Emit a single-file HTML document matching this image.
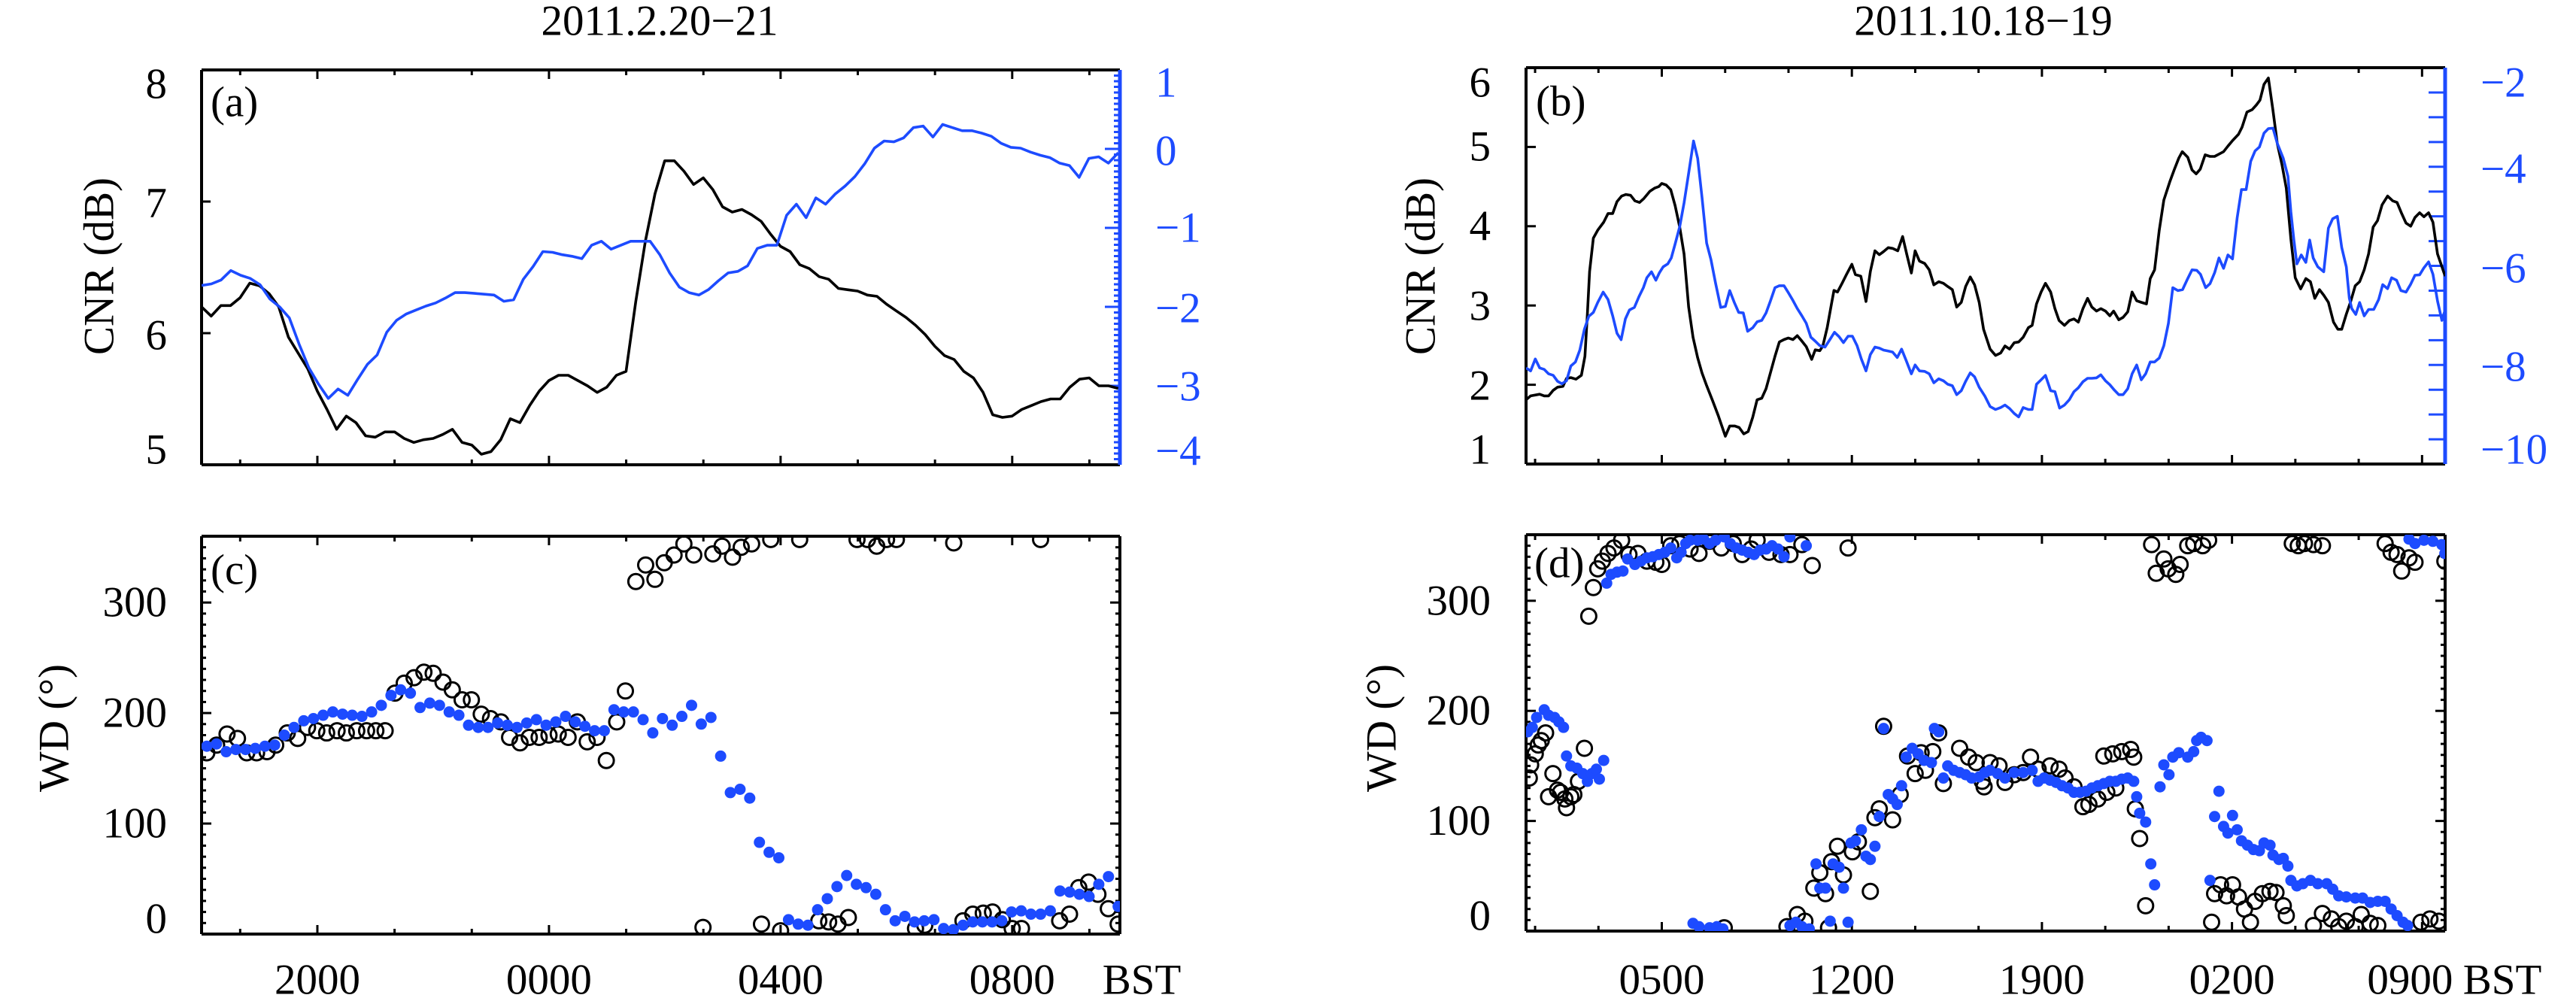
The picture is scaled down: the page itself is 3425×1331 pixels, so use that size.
<!DOCTYPE html>
<html><head><meta charset="utf-8"><style>
html,body{margin:0;padding:0;background:#fff;}
svg{display:block;}
text{font-family:"Liberation Serif","Times New Roman",serif;}
</style></head><body>
<svg id="chart" xmlns="http://www.w3.org/2000/svg" width="3425" height="1331" viewBox="0 0 3425 1331" font-family="'Liberation Serif', 'Times New Roman', serif">
<rect x="0" y="0" width="3425" height="1331" fill="#fff"/>
<defs>
<clipPath id="clipC"><rect x="268" y="713" width="1221" height="529"/></clipPath>
<clipPath id="clipD"><rect x="2029" y="711" width="1222" height="527"/></clipPath>
<clipPath id="clipA"><rect x="268" y="93" width="1221" height="525"/></clipPath>
<clipPath id="clipB"><rect x="2029" y="90" width="1222" height="527"/></clipPath>
</defs>
<g id="layer"></g>
</svg>
<script>
// ---------- Panel (a): 2011.2.20-21 CNR (hours since 18:00, 10-min steps) ----------
const aEndHour = 15.83;
const aCnrBlack = [6.20,6.13,6.21,6.21,6.27,6.38,6.36,6.30,6.20,5.97,5.85,5.73,5.56,5.42,5.27,5.37,5.32,5.22,5.21,5.25,5.25,5.20,5.17,5.19,5.20,5.23,5.27,5.17,5.15,5.08,5.10,5.19,5.35,5.32,5.45,5.56,5.64,5.68,5.68,5.64,5.60,5.55,5.59,5.68,5.71,6.24,6.70,7.06,7.31,7.31,7.23,7.13,7.18,7.09,6.96,6.92,6.94,6.90,6.85,6.75,6.66,6.62,6.52,6.49,6.43,6.41,6.34,6.33,6.32,6.29,6.28,6.22,6.17,6.12,6.06,5.99,5.90,5.83,5.80,5.71,5.66,5.55,5.38,5.36,5.37,5.42,5.45,5.48,5.50,5.50,5.59,5.65,5.66,5.60,5.60,5.58];
const aCnrBlue = [-1.73,-1.71,-1.66,-1.54,-1.60,-1.64,-1.72,-1.90,-2.00,-2.14,-2.47,-2.77,-2.98,-3.16,-3.04,-3.12,-2.92,-2.73,-2.61,-2.32,-2.17,-2.09,-2.04,-1.99,-1.95,-1.89,-1.82,-1.82,-1.83,-1.84,-1.85,-1.93,-1.91,-1.65,-1.49,-1.30,-1.31,-1.34,-1.36,-1.39,-1.22,-1.17,-1.27,-1.22,-1.17,-1.17,-1.17,-1.34,-1.57,-1.75,-1.82,-1.85,-1.78,-1.67,-1.57,-1.55,-1.48,-1.26,-1.22,-1.22,-0.84,-0.70,-0.87,-0.62,-0.70,-0.57,-0.47,-0.35,-0.19,0.01,0.10,0.09,0.14,0.27,0.29,0.15,0.31,0.27,0.23,0.23,0.20,0.16,0.07,0.02,0.01,-0.04,-0.08,-0.11,-0.18,-0.21,-0.36,-0.12,-0.10,-0.18,-0.05];
// ---------- Panel (c): wind direction ----------
const cBlueStart = 0.09, cBlueEnd = 15.83;
const cBlueDeg = [170,172,165,167,167,168,170,171,180,187,193,195,198,201,199,198,197,201,207,216,221,218,205,209,207,201,198,189,187,187,191,189,187,191,194,189,192,197,192,188,184,184,203,201,201,194,182,195,189,197,207,190,196,161,128,131,123,83,74,69,13,9,8,22,32,43,53,45,42,36,22,12,16,11,12,13,5,4,8,11,11,11,12,20,21,18,18,21,39,38,36,34,45,52,25];
const cBlackTime = [0.09,0.26,0.44,0.62,0.78,0.95,1.13,1.28,1.48,1.66,1.83,1.99,2.16,2.34,2.50,2.68,2.85,3.01,3.17,3.34,3.50,3.67,3.84,4.00,4.17,4.33,4.50,4.66,4.83,4.99,5.17,5.32,5.50,5.66,5.83,6.00,6.16,6.33,6.49,6.66,6.83,6.99,7.17,7.32,7.50,7.67,7.83,7.99,8.16,8.33,8.50,8.66,8.83,8.99,9.17,9.32,9.50,9.67,9.83,10.00,10.33,10.66,10.83,10.99,11.17,11.32,11.50,11.66,11.83,12.00,12.33,12.49,12.99,13.15,13.32,13.50,13.66,13.83,14.00,14.16,14.49,14.82,14.99,15.15,15.32,15.48,15.66,15.83];
const cBlackDeg = [164,171,181,177,164,164,165,171,182,177,187,184,182,184,182,184,184,184,184,218,227,232,237,236,228,221,212,212,199,195,192,178,173,178,178,180,181,178,192,174,178,157,192,220,319,334,321,336,343,353,343,6,344,351,341,350,353,9,357,3,357,12,11,9,15,357,357,351,357,357,5,8,354,12,18,19,20,13,5,5,357,12,18,42,47,36,23,9];
const acTickLabels = ["2000","0000","0400","0800"];
const acTickHours = [2,6,10,14];
// ---------- Panel (b): 2011.10.18-19 CNR (hours since 00:00) ----------
const bBlackTime = [0.00,0.17,0.50,0.67,0.83,1.00,1.16,1.36,1.49,1.65,1.84,2.04,2.17,2.26,2.34,2.48,2.64,2.86,3.02,3.19,3.35,3.52,3.68,3.85,4.01,4.18,4.34,4.56,4.73,4.89,5.00,5.16,5.33,5.49,5.66,5.82,5.99,6.15,6.32,6.48,6.65,6.87,7.08,7.34,7.50,7.69,7.85,8.02,8.18,8.35,8.51,8.68,8.84,9.00,9.17,9.33,9.50,9.66,9.83,9.99,10.16,10.32,10.52,10.65,10.82,10.93,11.09,11.25,11.34,11.47,11.64,11.80,12.00,12.13,12.33,12.52,12.68,12.85,13.01,13.17,13.34,13.50,13.69,13.87,14.02,14.19,14.33,14.49,14.68,14.85,15.02,15.20,15.37,15.53,15.70,15.86,16.03,16.19,16.36,16.52,16.69,16.85,17.09,17.29,17.48,17.64,17.81,17.98,18.14,18.31,18.50,18.64,18.80,18.97,19.13,19.32,19.48,19.63,19.83,20.01,20.18,20.34,20.51,20.68,20.84,21.01,21.17,21.34,21.50,21.64,21.83,21.99,22.16,22.32,22.49,22.66,22.85,22.99,23.15,23.32,23.49,23.71,23.87,24.04,24.17,24.37,24.53,24.68,24.83,25.01,25.19,25.36,25.52,25.69,25.85,26.02,26.24,26.37,26.55,26.74,26.90,27.03,27.18,27.34,27.51,27.67,27.84,28.00,28.17,28.33,28.53,28.72,28.89,29.05,29.22,29.38,29.55,29.74,29.90,30.04,30.21,30.37,30.54,30.70,30.87,31.03,31.20,31.36,31.53,31.73,31.92,32.08,32.25,32.41,32.58,32.74,32.91,33.07,33.24,33.40,33.57,33.73,33.85];
const bBlackCnr = [1.81,1.86,1.88,1.86,1.86,1.93,1.97,1.98,2.08,2.09,2.07,2.12,2.36,2.90,3.43,3.85,3.95,4.05,4.16,4.16,4.31,4.38,4.40,4.39,4.32,4.30,4.35,4.44,4.48,4.50,4.54,4.52,4.46,4.26,3.99,3.65,2.98,2.60,2.34,2.15,1.99,1.80,1.61,1.35,1.48,1.48,1.46,1.38,1.41,1.59,1.81,1.83,1.95,2.15,2.36,2.54,2.57,2.59,2.57,2.62,2.55,2.48,2.32,2.44,2.43,2.49,2.72,3.02,3.19,3.17,3.28,3.39,3.52,3.39,3.37,3.05,3.43,3.69,3.64,3.68,3.73,3.72,3.69,3.87,3.65,3.41,3.69,3.56,3.53,3.45,3.26,3.30,3.28,3.24,3.20,2.98,3.04,3.24,3.36,3.26,3.04,2.70,2.45,2.37,2.40,2.49,2.45,2.53,2.54,2.60,2.72,2.75,3.02,3.17,3.28,3.17,2.96,2.81,2.75,2.81,2.83,2.79,2.96,3.09,2.98,2.93,2.96,2.93,2.87,2.93,2.82,2.85,2.92,3.17,3.06,3.04,3.02,3.34,3.45,3.95,4.33,4.56,4.71,4.86,4.94,4.87,4.71,4.66,4.72,4.90,4.88,4.88,4.91,4.94,5.01,5.08,5.16,5.25,5.44,5.47,5.53,5.59,5.79,5.87,5.46,5.04,4.78,4.48,3.84,3.35,3.21,3.34,3.30,3.09,3.20,3.13,3.04,2.79,2.70,2.70,2.89,3.05,3.25,3.30,3.45,3.65,3.99,4.07,4.27,4.38,4.32,4.30,4.16,4.04,4.00,4.11,4.17,4.12,4.17,4.05,3.65,3.49,3.37];
const bBlueTime = [0.00,0.17,0.34,0.50,0.67,0.83,1.00,1.16,1.32,1.49,1.65,1.82,1.98,2.15,2.31,2.48,2.64,2.84,3.02,3.19,3.35,3.50,3.66,3.81,3.99,4.16,4.32,4.45,4.62,4.78,4.91,5.05,5.22,5.35,5.49,5.66,5.82,5.99,6.17,6.32,6.48,6.65,6.81,6.98,7.17,7.34,7.50,7.67,7.83,8.00,8.16,8.35,8.51,8.68,8.84,9.00,9.17,9.33,9.50,9.66,9.83,9.99,10.16,10.32,10.49,10.65,10.82,11.01,11.20,11.36,11.53,11.69,11.86,12.02,12.19,12.35,12.52,12.68,12.85,13.01,13.17,13.34,13.50,13.67,13.83,14.00,14.19,14.33,14.49,14.68,14.85,15.02,15.20,15.37,15.53,15.70,15.86,16.03,16.19,16.36,16.52,16.69,16.90,17.09,17.29,17.48,17.64,17.81,17.98,18.14,18.31,18.50,18.64,18.80,18.97,19.13,19.32,19.48,19.65,19.83,20.01,20.18,20.34,20.51,20.68,20.84,21.01,21.17,21.34,21.50,21.67,21.83,21.99,22.16,22.32,22.49,22.66,22.82,22.99,23.15,23.32,23.49,23.66,23.82,24.01,24.18,24.34,24.53,24.70,24.84,25.03,25.19,25.36,25.52,25.69,25.85,26.02,26.19,26.35,26.52,26.69,26.85,27.01,27.18,27.34,27.51,27.67,27.89,28.06,28.17,28.28,28.39,28.55,28.72,28.86,28.99,29.16,29.38,29.55,29.71,29.88,30.04,30.21,30.32,30.41,30.56,30.70,30.87,31.03,31.22,31.40,31.55,31.73,31.88,32.06,32.22,32.41,32.58,32.74,32.91,33.07,33.24,33.40,33.57,33.73,33.85];
const bBlueCnr = [-8.06,-8.12,-7.88,-8.06,-8.09,-8.18,-8.21,-8.33,-8.38,-8.32,-8.02,-7.94,-7.70,-7.28,-7.02,-6.94,-6.74,-6.53,-6.68,-7.01,-7.36,-7.49,-7.07,-6.89,-6.84,-6.62,-6.44,-6.24,-6.12,-6.29,-6.14,-6.02,-5.96,-5.84,-5.56,-5.21,-4.73,-4.13,-3.48,-3.83,-4.61,-5.54,-5.87,-6.35,-6.84,-6.82,-6.50,-6.74,-6.94,-6.95,-7.32,-7.25,-7.13,-7.10,-6.95,-6.71,-6.44,-6.40,-6.40,-6.54,-6.70,-6.86,-7.01,-7.16,-7.44,-7.52,-7.61,-7.64,-7.48,-7.34,-7.43,-7.55,-7.42,-7.42,-7.61,-7.88,-8.12,-7.79,-7.64,-7.66,-7.70,-7.72,-7.74,-7.85,-7.68,-7.91,-8.18,-8.00,-8.12,-8.13,-8.18,-8.36,-8.28,-8.32,-8.39,-8.42,-8.60,-8.52,-8.33,-8.16,-8.24,-8.45,-8.63,-8.84,-8.90,-8.86,-8.81,-8.88,-8.98,-9.05,-8.86,-8.90,-8.90,-8.39,-8.30,-8.21,-8.52,-8.54,-8.87,-8.81,-8.70,-8.54,-8.46,-8.34,-8.27,-8.27,-8.26,-8.20,-8.32,-8.40,-8.51,-8.60,-8.60,-8.48,-8.18,-8.00,-8.30,-8.18,-7.94,-7.94,-7.86,-7.61,-7.16,-6.44,-6.50,-6.48,-6.29,-6.08,-6.09,-6.17,-6.44,-6.36,-6.14,-5.84,-6.05,-5.78,-5.86,-5.03,-4.46,-4.46,-3.89,-3.68,-3.60,-3.32,-3.23,-3.22,-3.53,-3.83,-4.19,-4.91,-5.48,-5.96,-5.78,-5.93,-5.48,-5.84,-6.02,-6.12,-5.24,-5.05,-5.00,-5.63,-6.02,-6.65,-6.86,-6.98,-6.74,-7.01,-6.88,-6.88,-6.68,-6.38,-6.46,-6.24,-6.29,-6.50,-6.53,-6.37,-6.19,-6.18,-6.04,-5.92,-6.17,-6.71,-7.10,-6.89];
// ---------- Panel (d): wind direction ----------
const dBlueTime = [0.06,0.23,0.39,0.67,0.83,1.05,1.21,1.38,1.49,1.65,1.87,2.09,2.26,2.42,2.59,2.70,2.86,2.97,3.13,3.35,3.57,3.74,4.01,4.23,4.45,4.67,4.89,5.11,5.33,5.55,5.71,5.88,6.04,6.32,6.54,6.76,6.98,7.30,7.52,7.74,7.96,8.18,8.40,8.62,8.84,9.06,9.28,9.50,9.72,10.32,6.15,6.37,6.76,7.03,7.25,9.72,9.94,10.16,10.43,11.20,11.86,10.68,10.82,11.03,11.31,11.53,11.69,11.97,12.13,12.35,12.52,12.68,12.85,13.01,13.17,13.34,13.50,13.67,13.83,14.00,14.22,14.44,14.66,14.93,15.04,15.20,15.37,15.53,15.75,15.97,16.19,16.41,16.69,16.90,17.09,17.37,17.64,17.98,18.31,18.64,18.86,19.08,19.30,19.52,19.74,19.96,20.18,20.40,20.62,20.84,21.06,21.28,21.50,21.72,21.94,22.16,22.38,22.49,22.60,22.82,23.01,23.15,23.35,23.49,23.68,23.82,24.04,24.37,24.59,24.70,24.86,25.08,25.19,25.36,25.52,25.69,25.85,26.02,26.19,26.35,26.57,26.79,27.01,27.18,27.40,27.51,27.73,27.89,28.06,28.17,28.39,28.61,28.89,29.16,29.49,29.71,29.93,30.21,30.54,30.81,31.09,31.37,31.64,31.86,32.08,32.30,32.47,32.52,32.74,33.07,33.40,33.73,33.84];
const dBlueDeg = [181,185,194,201,196,194,190,185,159,150,148,143,136,143,147,138,155,316,324,326,327,338,333,336,339,340,342,344,348,339,344,352,355,355,356,352,355,358,352,348,346,344,342,346,347,350,347,340,358,350,7,4,3,4,2,5,8,4,2,9,8,61,39,39,61,58,39,80,82,92,68,65,77,104,184,124,120,115,132,158,166,161,155,153,184,181,139,150,146,144,142,139,140,144,146,143,139,144,144,146,136,139,137,135,132,130,126,126,127,130,132,134,136,136,138,139,136,122,107,99,61,42,131,151,142,158,162,158,163,173,176,173,46,104,127,95,89,105,92,82,78,74,73,80,78,69,65,66,59,46,41,43,46,43,43,38,32,31,30,30,26,27,27,20,14,8,5,356,352,355,354,351,343];
const dBlackTime = [0.12,0.17,0.34,0.45,0.56,0.72,0.83,0.99,1.16,1.27,1.43,1.49,1.65,1.76,1.93,2.15,2.31,2.48,2.64,2.81,3.02,3.24,3.52,3.79,4.12,4.45,4.78,5.00,5.33,5.66,6.04,6.37,6.76,7.19,7.63,7.96,8.29,8.51,8.95,9.39,9.72,10.16,10.54,11.86,7.30,9.61,9.99,10.27,11.14,10.60,10.82,11.03,11.25,11.47,11.69,12.02,12.24,12.68,12.85,13.01,13.50,13.78,13.17,14.05,14.33,14.55,14.71,14.98,15.20,15.37,15.97,16.30,16.58,16.80,16.87,17.09,17.42,17.64,17.98,18.31,18.58,18.86,19.30,19.63,19.85,20.18,20.51,20.73,21.06,21.39,21.72,21.28,21.61,21.94,22.27,22.38,22.44,22.60,22.82,23.04,23.21,23.49,23.65,23.93,24.09,24.37,24.59,24.92,25.14,25.25,25.36,25.58,25.80,26.02,26.24,26.46,26.68,26.85,27.12,27.40,27.62,27.89,28.00,28.22,28.44,28.67,29.00,29.33,29.00,29.33,29.66,29.93,30.21,30.54,30.76,31.09,31.37,31.64,31.86,32.08,32.25,32.52,32.74,32.96,33.29,33.62,33.84];
const dBlackDeg = [139,151,161,169,173,180,122,143,128,126,120,112,122,124,136,166,286,312,329,336,343,348,355,342,343,336,335,333,350,352,347,343,354,348,352,342,347,355,344,342,342,351,332,348,3,4,15,9,3,39,53,34,63,77,51,72,81,36,103,111,101,124,186,159,143,162,146,163,180,134,166,158,153,136,131,153,150,135,142,144,158,147,150,147,139,131,113,115,120,126,130,159,161,163,165,158,111,84,23,351,325,338,329,324,333,350,352,350,355,8,34,42,32,42,31,20,8,27,34,36,35,23,14,352,350,352,351,350,5,16,11,4,9,4,15,7,5,352,344,342,327,339,335,8,11,9,336];
const bdTickLabels = ["0500","1200","1900","0200","0900"];
const bdTickHours = [5,12,19,26,33];

const BLUE = "#1d4bff";
const FONT = "'Liberation Serif', 'Times New Roman', serif";
const NS = "http://www.w3.org/2000/svg";
const layer = document.getElementById("layer");

function mk(tag, attrs, parent) {
  const e = document.createElementNS(NS, tag);
  for (const k in attrs) e.setAttribute(k, attrs[k]);
  (parent || layer).appendChild(e);
  return e;
}
function txt(str, x, y, size, anchor, fill, parent) {
  const t = mk("text", {x: x, y: y, "font-size": size, "font-family": FONT, "text-anchor": anchor, "dominant-baseline": "central", fill: fill || "#000"}, parent);
  t.textContent = str;
  return t;
}

const P = {
  a: {x0: 268, x1: 1489, y0: 93, y1: 618, tmin: 0, tmax: 15.86},
  c: {x0: 268, x1: 1489, y0: 713, y1: 1242, tmin: 0, tmax: 15.86},
  b: {x0: 2029, x1: 3251, y0: 90, y1: 617, tmin: 0, tmax: 33.85},
  d: {x0: 2029, x1: 3251, y0: 711, y1: 1238, tmin: 0, tmax: 33.85}
};
function sx(p, t) { return p.x0 + (t - p.tmin) / (p.tmax - p.tmin) * (p.x1 - p.x0); }
function sy(p, v, lo, hi) { return p.y1 - (v - lo) / (hi - lo) * (p.y1 - p.y0); }

function xTicks(p, g, majors, minorStep, minorStart) {
  for (let t = minorStart; t <= p.tmax + 1e-6; t += minorStep) {
    const isMaj = majors.some(m => Math.abs(m - t) < 0.01);
    const L = isMaj ? 12 : 7;
    const x = sx(p, t);
    mk("line", {x1: x, x2: x, y1: p.y1, y2: p.y1 - L, stroke: "#000", "stroke-width": 3}, g);
    mk("line", {x1: x, x2: x, y1: p.y0, y2: p.y0 + L, stroke: "#000", "stroke-width": 3}, g);
  }
}
function frame(p, g, rightColor) {
  mk("line", {x1: p.x0, x2: p.x1, y1: p.y0, y2: p.y0, stroke: "#000", "stroke-width": 4}, g);
  mk("line", {x1: p.x0, x2: p.x1, y1: p.y1, y2: p.y1, stroke: "#000", "stroke-width": 4}, g);
  mk("line", {x1: p.x0, x2: p.x0, y1: p.y0, y2: p.y1, stroke: "#000", "stroke-width": 4}, g);
  mk("line", {x1: p.x1, x2: p.x1, y1: p.y0, y2: p.y1, stroke: rightColor, "stroke-width": rightColor === "#000" ? 4 : 5}, g);
}
function linePath(p, times, vals, lo, hi, color, name, clip) {
  const n = Math.min(times.length, vals.length);
  let d = "";
  for (let i = 0; i < n; i++) d += (i ? "L" : "M") + sx(p, times[i]).toFixed(1) + "," + sy(p, vals[i], lo, hi).toFixed(1);
  const e = mk("path", {d: d, fill: "none", stroke: color, "stroke-width": 3.6, "stroke-linejoin": "round", "clip-path": "url(#" + clip + ")"});
  
  
}
function scatter(p, times, degs, mode, name, clip) {
  const g = mk("g", {"clip-path": "url(#" + clip + ")"});
  
  
  const n = Math.min(times.length, degs.length);
  for (let i = 0; i < n; i++) {
    const cx = sx(p, times[i]), cy = sy(p, degs[i], 0, 360);
    if (mode === "open") mk("circle", {cx: cx, cy: cy, r: 10, fill: "none", stroke: "#000", "stroke-width": 3}, g);
    else mk("circle", {cx: cx, cy: cy, r: 7.5, fill: BLUE}, g);
  }
}
function wdAxes(p, g, labelRight) {
  for (let v = 0; v <= 360; v += 10) {
    const y = sy(p, v, 0, 360);
    const L = v % 100 === 0 ? 13 : 6;
    mk("line", {x1: p.x0, x2: p.x0 + L, y1: y, y2: y, stroke: "#000", "stroke-width": 3}, g);
    mk("line", {x1: p.x1, x2: p.x1 - L, y1: y, y2: y, stroke: "#000", "stroke-width": 3}, g);
  }
  [0, 100, 200, 300].forEach(v => {
    const y = v === 0 ? p.y1 - 20 : sy(p, v, 0, 360);
    const t = txt(String(v), labelRight, y, 57, "end", "#000");
    
    
  });
}

// ===== Titles =====
const t1 = txt("2011.2.20\u221221", 877, 28, 57, "middle");


const t2 = txt("2011.10.18\u221219", 2637, 28, 57, "middle");



// ===== Panel (a) =====
(function () {
  const p = P.a;
  const g = mk("g", {});
  
  
  xTicks(p, g, acTickHours, 4 / 3, 2 / 3);
  [6, 7].forEach(v => { const y = sy(p, v, 5, 8); mk("line", {x1: p.x0, x2: p.x0 + 12, y1: y, y2: y, stroke: "#000", "stroke-width": 3}, g); });
  for (let v = -4; v <= 1.0001; v += 1 / 14) {
    const y = sy(p, v, -4, 1);
    const isInt = Math.abs(v - Math.round(v)) < 0.01;
    mk("line", {x1: p.x1, x2: p.x1 - (isInt ? 20 : 8), y1: y, y2: y, stroke: BLUE, "stroke-width": 3}, g);
  }
  frame(p, g, BLUE);
  const leftLabels = [[8, 112], [7, 270], [6, 446], [5, 598]];
  leftLabels.forEach(l => { const t = txt(String(l[0]), 222, l[1], 57, "end");   });
  const rightLabels = [["1", 110], ["0", 201], ["\u22121", 303], ["\u22122", 410], ["\u22123", 514], ["\u22124", 600]];
  rightLabels.forEach(l => { const t = txt(l[0], 1536, l[1], 57, "start", BLUE);   });
  const yt = txt("CNR (dB)", 0, 0, 57, "middle");
  yt.setAttribute("transform", "translate(132,354) rotate(-90)");
  
  
  const pl = txt("(a)", 280, 136, 57, "start");
  
  
  const n1 = aCnrBlack.length, n2 = aCnrBlue.length;
  const tA = aCnrBlack.map((_, i) => i * aEndHour / (n1 - 1));
  const tB = aCnrBlue.map((_, i) => i * aEndHour / (n2 - 1));
  linePath(p, tA, aCnrBlack, 5, 8, "#000", "a-cnr-black-line", "clipA");
  linePath(p, tB, aCnrBlue, -4, 1, BLUE, "a-cnr-blue-line", "clipA");
})();

// ===== Panel (c) =====
(function () {
  const p = P.c;
  const g = mk("g", {});
  
  
  xTicks(p, g, acTickHours, 4 / 3, 2 / 3);
  wdAxes(p, g, 222);
  frame(p, g, "#000");
  acTickHours.forEach((h, i) => { const t = txt(acTickLabels[i], sx(p, h), 1303, 57, "middle");   });
  const bst = txt("BST", 1518, 1303, 57, "middle");
  
  
  const yt = txt("WD (\u00b0)", 0, 0, 57, "middle");
  yt.setAttribute("transform", "translate(72,968) rotate(-90)");
  
  
  const pl = txt("(c)", 280, 758, 57, "start");
  
  
  scatter(p, cBlackTime, cBlackDeg, "open", "c-wd-black-circles", "clipC");
  const nb = cBlueDeg.length;
  const tb = cBlueDeg.map((_, i) => cBlueStart + i * (cBlueEnd - cBlueStart) / (nb - 1));
  scatter(p, tb, cBlueDeg, "dot", "c-wd-blue-dots", "clipC");
})();

// ===== Panel (b) =====
(function () {
  const p = P.b;
  const g = mk("g", {});
  
  
  xTicks(p, g, bdTickHours, 7 / 3, 1 / 3);
  [2, 3, 4, 5].forEach(v => { const y = sy(p, v, 1, 6); mk("line", {x1: p.x0, x2: p.x0 + 13, y1: y, y2: y, stroke: "#000", "stroke-width": 3}, g); });
  for (let v = -10; v <= -2.0001 + 0.5; v += 0.5) {
    const y = sy(p, v, -10, -2);
    mk("line", {x1: p.x1, x2: p.x1 - 22, y1: y, y2: y, stroke: BLUE, "stroke-width": 3}, g);
  }
  frame(p, g, BLUE);
  [[6, 110], [5, 195], [4, 301], [3, 407], [2, 513], [1, 598]].forEach(l => { const t = txt(String(l[0]), 1982, l[1], 57, "end");   });
  const rightLabels = [["\u22122", 110], ["\u22124", 225], ["\u22126", 357], ["\u22128", 488], ["\u221210", 598]];
  rightLabels.forEach(l => { const t = txt(l[0], 3298, l[1], 57, "start", BLUE);   });
  const yt = txt("CNR (dB)", 0, 0, 57, "middle");
  yt.setAttribute("transform", "translate(1889,354) rotate(-90)");
  
  
  const pl = txt("(b)", 2042, 135, 57, "start");
  
  
  linePath(p, bBlackTime, bBlackCnr, 1, 6, "#000", "b-cnr-black-line", "clipB");
  linePath(p, bBlueTime, bBlueCnr, -10, -2, BLUE, "b-cnr-blue-line", "clipB");
})();

// ===== Panel (d) =====
(function () {
  const p = P.d;
  const g = mk("g", {});
  
  
  xTicks(p, g, bdTickHours, 7 / 3, 1 / 3);
  wdAxes(p, g, 1982);
  frame(p, g, "#000");
  bdTickHours.forEach((h, i) => {
    const x = i === bdTickHours.length - 1 ? sx(p, h) - 16 : sx(p, h);
    const t = txt(bdTickLabels[i], x, 1303, 57, "middle");
    
    
  });
  const bst = txt("BST", 3327, 1303, 57, "middle");
  
  
  const yt = txt("WD (\u00b0)", 0, 0, 57, "middle");
  yt.setAttribute("transform", "translate(1837,968) rotate(-90)");
  
  
  const pl = txt("(d)", 2040, 749, 57, "start");
  
  
  scatter(p, dBlackTime, dBlackDeg, "open", "d-wd-black-circles", "clipD");
  scatter(p, dBlueTime, dBlueDeg, "dot", "d-wd-blue-dots", "clipD");
})();
</script>
</body></html>
